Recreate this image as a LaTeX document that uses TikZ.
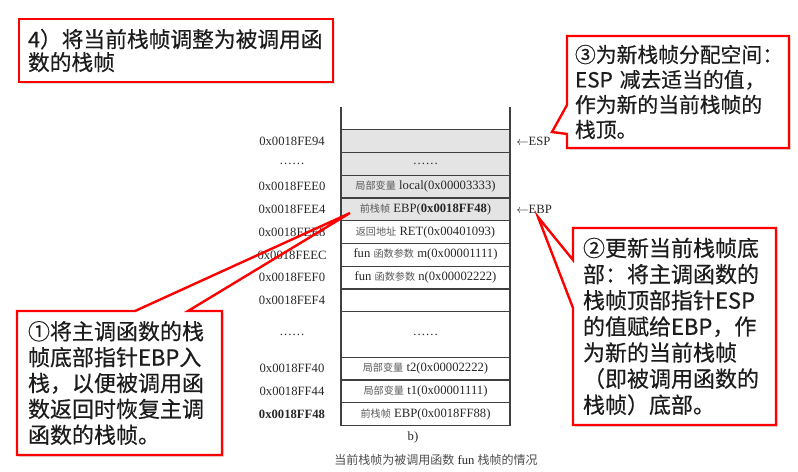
\documentclass[tikz,border=0pt]{standalone}
\usepackage{fontspec}
\setmainfont{Liberation Serif}
\newfontfamily\cjk{Noto Sans CJK SC}
\newfontfamily\cjknote{Noto Sans CJK SC}[FakeBold=0.4]
\usetikzlibrary{positioning,calc,shadows}
\definecolor{cellgray}{RGB}{228,228,228}
\definecolor{noteink}{RGB}{28,28,28}
\newcommand{\zh}[1]{{\cjk\fontsize{7.6}{8}\selectfont\color{black!65}#1}}
\newcommand{\zhcap}[1]{{\cjk\fontsize{9}{10}\selectfont\color{black!70}#1}}
\tikzset{
  cell/.style={draw=black!75, line width=0.8pt, minimum width=126.75pt,
               minimum height=17.06pt, inner sep=0pt, outer sep=0pt, text=black!85,
               font=\fontsize{9.5}{11}\selectfont},
  addr/.style={inner sep=0pt, text=black!85, font=\fontsize{9.5}{11}\selectfont},
  note/.style={fill=white, anchor=north west, inner ysep=0pt, outer sep=0pt, align=left,
               text=noteink,
               drop shadow={opacity=0.25, shadow xshift=1.5pt, shadow yshift=-1.5pt}},
  callout/.style={draw=red, line width=1.8pt, line join=miter},
}
\begin{document}
\begin{tikzpicture}[x=0.75pt,y=-0.75pt]
  \useasboundingbox (0,0) rectangle (798,471);
  % stack table
  \node[cell, draw=none, anchor=north] (r0) at (425.5,107) {};
  \draw[black!75, line width=0.8pt] (r0.north west) -- (r0.south west)
                                    (r0.north east) -- (r0.south east);
  \node[cell, fill=cellgray, below=0pt of r0] (r1) {};
  \node[cell, fill=cellgray, below=0pt of r1] (r2) {……};
  \node[cell, fill=cellgray, below=0pt of r2] (r3) {\zh{局部变量} local(0x00003333)};
  \node[cell, fill=cellgray, below=0pt of r3] (r4) {\zh{前栈帧} EBP(\textbf{0x0018FF48})};
  \node[cell, below=0pt of r4] (r5) {\zh{返回地址} RET(0x00401093)};
  \node[cell, below=0pt of r5] (r6) {fun \zh{函数参数} m(0x00001111)};
  \node[cell, below=0pt of r6] (r7) {fun \zh{函数参数} n(0x00002222)};
  \node[cell, below=0pt of r7] (r8) {};
  \node[cell, minimum height=34.12pt, below=0pt of r8] (r9) {……};
  \node[cell, below=0pt of r9] (r10) {\zh{局部变量} t2(0x00002222)};
  \node[cell, below=0pt of r10] (r11) {\zh{局部变量} t1(0x00001111)};
  \node[cell, below=0pt of r11] (r12) {\zh{前栈帧} EBP(0x0018FF88)};

  \foreach \r/\t in {1/0x0018FE94, 2/……, 3/0x0018FEE0, 4/0x0018FEE4, 5/0x0018FEE8,
                     6/0x0018FEEC, 7/0x0018FEF0, 8/0x0018FEF4, 9/……, 10/0x0018FF40,
                     11/0x0018FF44, 12/{\textbf{0x0018FF48}}}
    \node[addr] (a\r) at (292,0 |- r\r) {\t};

  \node[addr, anchor=west] (esp) at (516,0 |- r1) {$\leftarrow$ESP};
  \node[addr, anchor=west] (ebp) at (516,0 |- r4) {$\leftarrow$EBP};
  \node[addr] (sub) at (413,437) {b)};
  \node[addr] (cap) at (436,460) {\zhcap{当前栈帧为被调用函数} fun \zhcap{栈帧的情况}};

  % notes
  \node[note, callout, inner xsep=6.75pt, text width=222pt, minimum height=47.25pt,
        font=\cjknote\fontsize{16.3}{17.25}\selectfont] (title) at (19,19)
        {4）将当前栈帧调整为被调用函\\数的栈帧};
  \node[note, inner xsep=6pt, text width=154.5pt, minimum height=84pt,
        font=\cjknote\fontsize{15.6}{18.75}\selectfont] (three) at (567,36)
        {③为新栈帧分配空间：\\ESP 减去适当的值，\\作为新的当前栈帧的\\栈顶。};
  \node[note, inner xsep=7.5pt, text width=137.25pt, minimum height=147.75pt,
        font=\cjknote\fontsize{16.5}{19.6}\selectfont] (two) at (573,228)
        {②更新当前栈帧底\\部：将主调函数的\\栈帧顶部指针ESP\\的值赋给EBP，作\\为新的当前栈帧\\（即被调用函数的\\栈帧）底部。};
  \node[note, inner xsep=8.25pt, text width=137.25pt, minimum height=108pt,
        font=\cjknote\fontsize{16.5}{19.4}\selectfont] (one) at (17,311)
        {①将主调函数的栈\\帧底部指针EBP入\\栈，以便被调用函\\数返回时恢复主调\\函数的栈帧。};

  % callout pointers
  \coordinate (tip3) at (552,132);
  \coordinate (tip2) at (538,217);
  \coordinate (tip1) at (350,213);
  \draw[callout] (three.north west) -- (three.north east) -- (three.south east)
    -- (three.south west) -- ($(three.north west)+(0,98)$) -- (tip3)
    -- ($(three.north west)+(0,69)$) -- cycle;
  \draw[callout] (two.north west) -- (two.north east) -- (two.south east)
    -- (two.south west) -- ($(two.north west)+(0,80)$) -- (tip2)
    -- ($(two.north west)+(0,32)$) -- cycle;
  \draw[callout] (one.north west) -- ($(one.north west)+(118,0)$) -- (tip1)
    -- ($(one.north west)+(171,0)$) -- (one.north east) -- (one.south east)
    -- (one.south west) -- cycle;
\end{tikzpicture}
\end{document}
